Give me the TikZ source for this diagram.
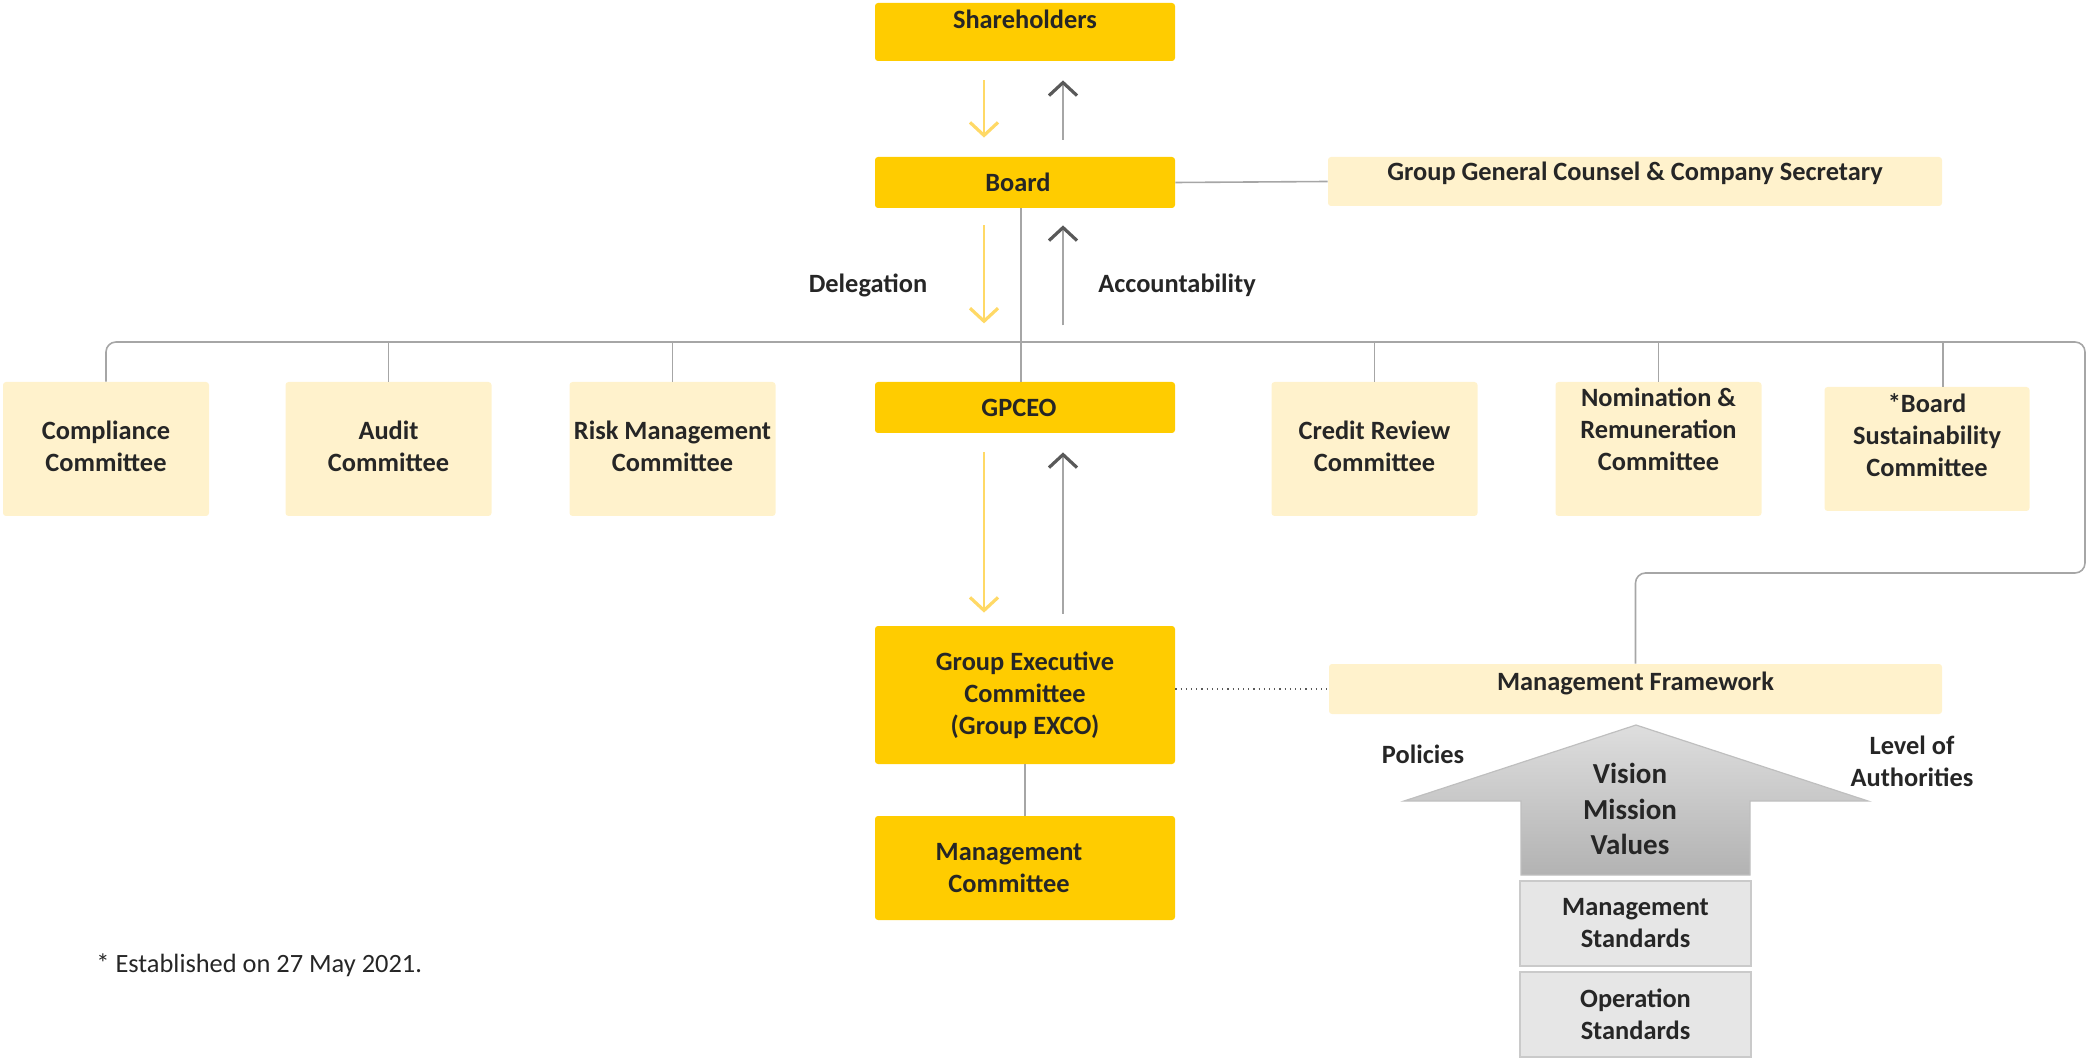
\documentclass[tikz,border=0pt]{standalone}
\usepackage{fontspec}
\setmainfont{Carlito}
\usetikzlibrary{arrows.meta, positioning}

\definecolor{gold}{HTML}{FFCC00}
\definecolor{pale}{HTML}{FFF2CC}
\definecolor{linegray}{HTML}{A6A6A6}
\definecolor{tipgray}{HTML}{595959}
\definecolor{dlgyellow}{HTML}{FFD966}
\definecolor{textdark}{HTML}{262626}
\definecolor{stdgray}{HTML}{E6E6E6}
\definecolor{stdedge}{HTML}{CACACA}

\tikzset{
  gbox/.style={fill=gold, rounded corners=1.5pt, minimum width=150pt, align=center, inner sep=0pt},
  lbox/.style={fill=pale, rounded corners=1.5pt, minimum width=103pt, minimum height=67pt, align=center, inner sep=0pt},
  sbox/.style={fill=stdgray, draw=stdedge, line width=1pt, minimum width=115.5pt, minimum height=42.5pt, align=center, inner sep=0pt},
  txt/.style={align=center, inner sep=0pt},
  conn/.style={draw=linegray, line width=0.8pt},
  dlg/.style={draw=dlgyellow, line width=1pt, -{Straight Barb[length=6.5pt,width=14pt,line width=1.6pt]}},
  acc/.style={draw=linegray, line width=1pt, -{Straight Barb[length=6.5pt,width=14pt,line width=1.6pt,color=tipgray]}}
}

\begin{document}
\begin{tikzpicture}[x=0.5pt, y=-0.5pt, font=\bfseries\fontsize{13.2}{16}\selectfont, text=textdark]
\useasboundingbox (0,0) rectangle (2087,1058);

% top of the chain
\node[gbox, minimum height=29pt] (share) at (1025,32) {};
\node[txt] (sharet) at ([yshift=6.5pt]share.center) {Shareholders};
\node[gbox, minimum height=25.5pt] (board) at (1025,182.5) {};
\node[txt] (boardt) at ([xshift=-3.5pt]board.center) {Board};
\node[fill=pale, rounded corners=1.5pt, minimum width=307pt, minimum height=24.5pt, inner sep=0pt] (ggc) at (1635,181.5) {};
\node[txt] (ggct) at ([yshift=4pt]ggc.center) {Group General Counsel \& Company Secretary};

% committees
\node[lbox] (comp) at (106,449) {};
\node[txt] (compt) at ([yshift=1.5pt]comp.center) {Compliance\\Committee};
\node[lbox] (aud) at (388.5,449) {};
\node[txt] (audt) at ([yshift=1.5pt]aud.center) {Audit\\Committee};
\node[lbox] (risk) at (672.5,449) {};
\node[txt] (riskt) at ([yshift=1.5pt]risk.center) {Risk Management\\Committee};
\node[gbox, minimum height=25.5pt] (ceo) at (1025,407.5) {};
\node[txt] (ceot) at ([xshift=-3pt]ceo.center) {GPCEO};
\node[lbox] (cred) at (1374.5,449) {};
\node[txt] (credt) at ([yshift=1.5pt]cred.center) {Credit Review\\Committee};
\node[lbox] (nom) at (1658.5,449) {};
\node[txt] (nomt) at ([yshift=10pt]nom.center) {Nomination \&\\Remuneration\\Committee};
\node[lbox, minimum width=102.5pt, minimum height=62pt] (sust) at (1927,449) {};
\node[txt] (sustt) at ([yshift=7pt]sust.center) {*Board\\Sustainability\\Committee};

% management side
\node[gbox, minimum height=69pt] (exco) at (1025,695) {Group Executive\\Committee\\(Group EXCO)};
\node[gbox, minimum height=52pt] (mgmt) at (1025,868) {};
\node[txt] (mgmtt) at ([xshift=-8pt]mgmt.center) {Management\\Committee};
\node[fill=pale, rounded corners=1.5pt, minimum width=306.5pt, minimum height=25pt, inner sep=0pt] (mf) at (1635.5,689) {};
\node[txt] (mft) at ([yshift=3pt]mf.center) {Management Framework};

% framework arrow
\shade[top color=black!13, bottom color=black!30, draw=black!25, line width=0.6pt]
  (1636,725) -- (1868,801) -- (1750,801) -- (1750,875) -- (1521,875) -- (1521,801) -- (1404,801) -- cycle;
\node[txt, font=\bfseries\fontsize{14.5}{17.6}\selectfont] (vmv) at (1630,809) {Vision\\Mission\\Values};
\node[sbox] (ms) at (1635.5,923.5) {Management\\Standards};
\node[sbox] (os) at (1635.5,1014.5) {Operation\\Standards};
\node[txt] (pol) at (1423,754) {Policies};
\node[txt] (loa) at (1912,761) {Level of\\Authorities};

% labels
\node[txt] (dlgt) at (868,285) {Delegation};
\node[txt] (acct) at (1177,285) {Accountability};
\node[txt, anchor=west, font=\mdseries\fontsize{13.2}{16}\selectfont] (note) at (96,965) {* Established on 27 May 2021.};

% lines
\coordinate (bus) at (0,342);
\draw[conn] (board.east) -- (ggc.west);
\draw[conn] ([xshift=-2pt]board.south) -- ([xshift=-2pt]ceo.north);
\draw[conn, rounded corners=5pt] (comp.north) |- (2085,342) -- (2085,573) -| (mf.north);
\foreach \c in {aud,risk,cred,nom}
  \draw[conn] (\c.north) -- (\c.north |- bus);
\draw[conn] ([xshift=8pt]sust.north) -- ([xshift=8pt]sust.north |- bus);
\draw[conn] (exco.south) -- (mgmt.north);
\draw[draw=tipgray, line width=0.6pt, dotted] (mf.west -| exco.east) -- (mf.west);

% delegation / accountability arrows
\draw[dlg] ([xshift=-20.5pt,yshift=-9.5pt]share.south) -- ([xshift=-20.5pt,yshift=9.5pt]board.north);
\draw[acc] ([xshift=19pt,yshift=8.5pt]board.north) -- ([xshift=19pt,yshift=-9.5pt]share.south);
\draw[dlg] ([xshift=-20.5pt,yshift=-8.5pt]board.south) -- ([xshift=-20.5pt,yshift=-57.5pt]board.south);
\draw[acc] ([xshift=19pt,yshift=-58.5pt]board.south) -- ([xshift=19pt,yshift=-8.5pt]board.south);
\draw[dlg] ([xshift=-20.5pt,yshift=-9.5pt]ceo.south) -- ([xshift=-20.5pt,yshift=6.5pt]exco.north);
\draw[acc] ([xshift=19pt,yshift=6pt]exco.north) -- ([xshift=19pt,yshift=-9.5pt]ceo.south);

\end{tikzpicture}
\end{document}
